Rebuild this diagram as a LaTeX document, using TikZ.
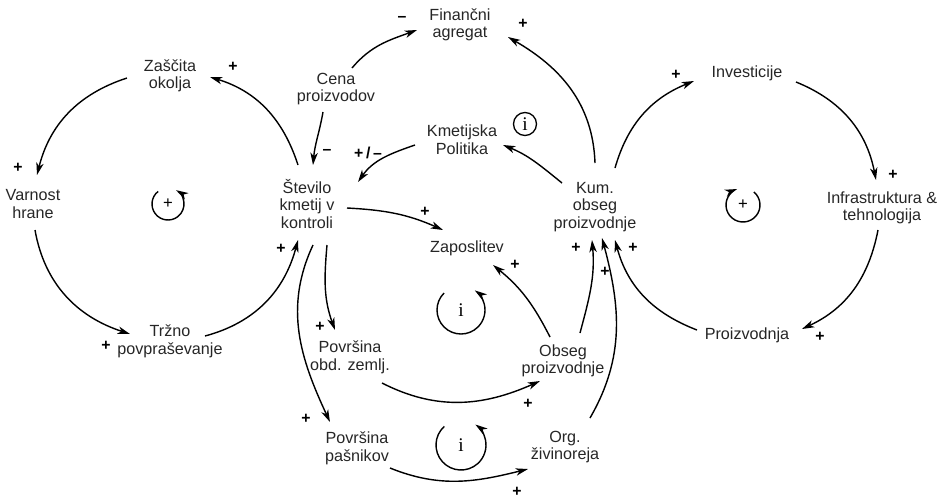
\documentclass[tikz,border=0pt]{standalone}
\usepackage{fontspec}
\setmainfont{Liberation Sans}
\newfontfamily\loopfont{Liberation Serif}
\usetikzlibrary{arrows.meta}

\begin{document}
\begin{tikzpicture}[
        x=0.02cm, y=0.02cm,
        cvar/.style={align=center, inner sep=0pt, text=black!85, font=\fontsize{9.2}{10}\selectfont},
        polarity/.style={inner sep=0pt, font=\bfseries\fontsize{9}{10}\selectfont},
        link/.style={-{Stealth[length=7pt, width=4.2pt, inset=2pt]}, line width=0.8pt},
        loopmark/.style={inner sep=0pt, font=\fontsize{9.5}{10}\selectfont},
        infomark/.style={inner sep=0pt, font=\loopfont\fontsize{11}{11}\selectfont}
    ]
    \useasboundingbox (0,0) rectangle (943,-498);

    % Variables
    \node[cvar] (zas) at (170,-76) {Zaščita\\okolja};
    \node[cvar] (var) at (33,-204) {Varnost\\hrane};
    \node[cvar] (trz) at (170,-341) {Tržno\\povpraševanje};
    \node[cvar] (stev) at (307,-204) {Število\\kmetij v\\kontroli};
    \node[cvar] (cena) at (336,-89) {Cena\\proizvodov};
    \node[cvar] (fin) at (460,-25) {Finančni\\agregat};
    \node[cvar] (kmp) at (462,-140) {Kmetijska\\Politika};
    \node[cvar] (kum) at (595,-207) {Kum.\\obseg\\proizvodnje};
    \node[cvar] (zap) at (467,-248) {Zaposlitev};
    \node[cvar] (inv) at (747,-73) {Investicije};
    \node[cvar] (infra) at (882,-208) {Infrastruktura \&\\tehnologija};
    \node[cvar] (proiz) at (747,-335) {Proizvodnja};
    \node[cvar] (pobd) at (350,-357) {Površina\\obd. zemlj.};
    \node[cvar] (ppas) at (357,-448) {Površina\\pašnikov};
    \node[cvar] (obs) at (563,-361) {Obseg\\proizvodnje};
    \node[cvar] (org) at (565,-447) {Org.\\živinoreja};

    % Left loop
    \draw[link] ([shift={(-43,-2)}]zas.center) to[out=198, in=76] ([shift={(4,29)}]var.center);
    \draw[link] ([shift={(2,-26)}]var.center) to[out=280, in=162] ([shift={(-40,7)}]trz.center);
    \draw[link] ([shift={(35,5)}]trz.center) to[out=15, in=255] ([shift={(-9,-36)}]stev.center);
    \draw[link] ([shift={(-9,39)}]stev.center) to[out=108, in=-17] ([shift={(40,-1)}]zas.center);

    % Right loop
    \draw[link] ([shift={(20,39)}]kum.center) to[out=74, in=202] ([shift={(-53,-8)}]inv.center);
    \draw[link] ([shift={(49,-9)}]inv.center) to[out=-22, in=101] ([shift={(-6,28)}]infra.center);
    \draw[link] ([shift={(-4,-22)}]infra.center) to[out=259, in=25] ([shift={(55,6)}]proiz.center);
    \draw[link] ([shift={(-50,5)}]proiz.center) to[out=159, in=285] ([shift={(20,-33)}]kum.center);

    % Top: price, finance, policy
    \draw[link] ([shift={(16,21)}]cena.center) to[out=50, in=200] ([shift={(-43,-5)}]fin.center);
    \draw[link] ([shift={(0,44)}]kum.center) to[out=92, in=330] ([shift={(48,-12)}]fin.center);
    \draw[link] ([shift={(-13,-23)}]cena.center) to[out=260, in=85] ([shift={(6,39)}]stev.center);
    \draw[link] ([shift={(-47,-5)}]kmp.center) to[out=199, in=55] ([shift={(51,22)}]stev.center);
    \draw[link] ([shift={(-33,24)}]kum.center) to[out=141, in=338] ([shift={(41,-5)}]kmp.center);

    % Middle and bottom
    \draw[link] ([shift={(40,-4)}]stev.center) to[out=-3, in=156] ([shift={(-24,18)}]zap.center);
    \draw[link] ([shift={(20,-41)}]stev.center) to[out=265, in=110] ([shift={(-15,27)}]pobd.center);
    \draw[link] ([shift={(6,-41)}]stev.center) to[out=245, in=115] ([shift={(-27,26)}]ppas.center);
    \draw[link] ([shift={(32,-26)}]pobd.center) to[out=-27, in=204] ([shift={(-23,-20)}]obs.center);
    \draw[link] ([shift={(33,-20)}]ppas.center) to[out=-22, in=194] ([shift={(-37,-22)}]org.center);
    \draw[link] ([shift={(-13,24)}]obs.center) to[out=117, in=321] ([shift={(26,-17)}]zap.center);
    \draw[link] ([shift={(17,28)}]obs.center) to[out=75, in=275] ([shift={(-3,-33)}]kum.center);
    \draw[link] ([shift={(25,29)}]org.center) to[out=60, in=285] ([shift={(7,-31)}]kum.center);

    % Polarities
    \node[polarity] (p1) at (18,-168) {+};
    \node[polarity] (p2) at (233,-67) {+};
    \node[polarity] (p3) at (106,-346) {+};
    \node[polarity] (p4) at (281,-249) {+};
    \node[polarity] (p5) at (402,-19) {–};
    \node[polarity] (p6) at (523,-24) {+};
    \node[polarity] (p7) at (327,-152) {–};
    \node[polarity] (p8) at (368,-153) {+\,/\,–};
    \node[polarity] (p9) at (425,-212) {+};
    \node[polarity] (p10) at (676,-75) {+};
    \node[polarity] (p11) at (893,-175) {+};
    \node[polarity] (p12) at (820,-337) {+};
    \node[polarity] (p13) at (633,-248) {+};
    \node[polarity] (p14) at (576,-248) {+};
    \node[polarity] (p15) at (605,-272) {+};
    \node[polarity] (p16) at (515,-265) {+};
    \node[polarity] (p17) at (320,-327) {+};
    \node[polarity] (p18) at (306,-419) {+};
    \node[polarity] (p19) at (528,-404) {+};
    \node[polarity] (p20) at (517,-492) {+};

    % Loop markers
    \node[loopmark] (lpl) at (168,-204) {+};
    \draw[link] ([shift={(128:0.32cm)}]lpl.center) arc[start angle=128, end angle=420, radius=0.32cm];
    \node[loopmark] (lpr) at (743,-205) {+};
    \draw[link] ([shift={(50:0.34cm)}]lpr.center) arc[start angle=50, end angle=-250, radius=0.34cm];
    \node[infomark] (lpa) at (461,-310) {i};
    \draw[link] ([shift={(135:0.48cm)}]lpa.center) arc[start angle=135, end angle=415, radius=0.48cm];
    \node[infomark] (lpb) at (461,-445) {i};
    \draw[link] ([shift={(132:0.5cm)}]lpb.center) arc[start angle=132, end angle=415, radius=0.5cm];
    \node[infomark, circle, draw, line width=0.75pt, minimum size=0.46cm] (info) at (525,-124) {i};

\end{tikzpicture}
\end{document}
